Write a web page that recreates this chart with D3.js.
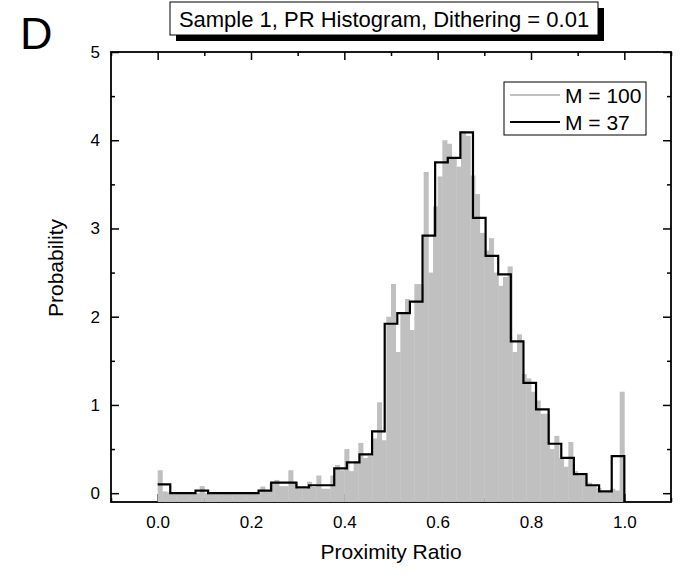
<!DOCTYPE html>
<html>
<head>
<meta charset="utf-8">
<script src="https://cdn.jsdelivr.net/npm/d3@7"></script>
<style>
  body { margin: 0; background: #fff; }
  text { font-family: "Liberation Sans", Arial, sans-serif; }
</style>
</head>
<body>
<script>
// histogram heights, M = 100 bins on [0,1]
var pr100 = [
  0.26, 0.02, 0.01, 0, 0, 0, 0, 0, 0, 0.08,
  0, 0, 0, 0, 0, 0, 0, 0, 0, 0,
  0, 0, 0.075, 0.02, 0.12, 0.15, 0.08, 0.08, 0.26, 0.12,
  0.05, 0.05, 0.13, 0.07, 0.2, 0.05, 0.05, 0.2, 0.32, 0.26,
  0.5, 0.25, 0.35, 0.57, 0.4, 0.42, 0.62, 1.03, 0.6, 2.0,
  2.37, 1.6, 2.05, 2.2, 1.85, 2.37, 2.37, 3.64, 2.5, 3.25,
  3.59, 4.0, 3.96, 3.8, 3.7, 4.1, 4.05, 3.6, 3.39, 2.95,
  2.75, 2.89, 2.5, 2.35, 2.45, 2.57, 1.6, 1.8, 1.35, 1.3,
  1.15, 1.05, 0.9, 0.9, 0.5, 0.65, 0.4, 0.3, 0.58, 0.25,
  0.2, 0.2, 0.12, 0.08, 0.06, 0.01, 0.01, 0.05, 0.03, 1.15
];

// histogram heights, M = 37 bins on [0,1]
var pr37 = [
  0.10, 0, 0, 0.03, 0, 0, 0, 0, 0.03, 0.12,
  0.12, 0.065, 0.09, 0.09, 0.28, 0.35, 0.44, 0.70, 1.92, 2.04,
  2.17, 2.92, 3.75, 3.80, 4.09, 3.12, 2.69, 2.48, 1.72, 1.25,
  0.95, 0.56, 0.40, 0.215, 0.09, 0.02, 0.42
];

var xTicks = [0, 0.2, 0.4, 0.6, 0.8, 1.0];
var xMinor = [-0.1, 0.1, 0.3, 0.5, 0.7, 0.9, 1.1];
var yTicks = [0, 1, 2, 3, 4, 5];
var yMinor = [0.5, 1.5, 2.5, 3.5, 4.5];

var legendNames = ["M = 100", "M = 37"];
var legendColors = ["#c0c0c0", "#000"];

var width = 697, height = 576;
// note: "top" is taken by window.top, so plot edges get their own names
var pl = 111, pr = 671, pt = 52, pb = 502;

var svg = d3.select("body").append("svg")
    .attr("width", width)
    .attr("height", height);

var x = d3.scaleLinear().domain([-0.1, 1.1]).range([pl, pr]);
var y = d3.scaleLinear().domain([-0.1, 5]).range([pb, pt]);

// frame
svg.append("rect")
    .attr("x", pl).attr("y", pt)
    .attr("width", pr - pl).attr("height", pb - pt)
    .attr("fill", "none").attr("stroke", "#000").attr("stroke-width", 1.8);

// axes, ticks pointing inward
var axB = d3.axisBottom(x).tickValues(xTicks).tickSize(-8).tickFormat(d3.format(".1f")).tickPadding(14);
var axBm = d3.axisBottom(x).tickValues(xMinor).tickSize(-4).tickFormat("");
var axT = d3.axisTop(x).tickValues(xTicks).tickSize(-8).tickFormat("");
var axTm = d3.axisTop(x).tickValues(xMinor).tickSize(-4).tickFormat("");
var axL = d3.axisLeft(y).tickValues(yTicks).tickSize(-8).tickFormat(d3.format("d")).tickPadding(11);
var axLm = d3.axisLeft(y).tickValues(yMinor).tickSize(-4).tickFormat("");
var axR = d3.axisRight(y).tickValues(yTicks).tickSize(-8).tickFormat("");
var axRm = d3.axisRight(y).tickValues(yMinor).tickSize(-4).tickFormat("");

function put(ax, tx, ty) {
  var g = svg.append("g").attr("transform", "translate(" + tx + "," + ty + ")").call(ax);
  g.attr("font-size", 17).attr("font-family", "'Liberation Sans', Arial, sans-serif");
  g.select(".domain").remove();
  g.selectAll("line").attr("stroke", "#000").attr("stroke-width", 1.5);
  g.selectAll("text").attr("fill", "#000");
  return g;
}
put(axB, 0, pb); put(axBm, 0, pb);
put(axT, 0, pt); put(axTm, 0, pt);
put(axL, pl, 0); put(axLm, pl, 0);
put(axR, pr, 0); put(axRm, pr, 0);

// gray bars (M = 100), drawn from the frame bottom
var w100 = 1 / pr100.length;
svg.append("g").selectAll("rect")
  .data(pr100)
  .enter().append("rect")
    .attr("x", function(d, i) { return x(i * w100); })
    .attr("width", function(d, i) { return x((i + 1) * w100) - x(i * w100) + 0.4; })
    .attr("y", function(d) { return y(d); })
    .attr("height", function(d) { return pb - y(d); })
    .attr("fill", "#c0c0c0");

// black step line (M = 37)
var w37 = 1 / pr37.length;
var pts = pr37.map(function(d, i) { return [i * w37, d]; });
pts.push([1, pr37[pr37.length - 1]]);
pts.push([1, -0.1]);
var step = d3.line()
    .x(function(d) { return x(d[0]); })
    .y(function(d) { return y(d[1]); })
    .curve(d3.curveStepAfter);
svg.append("path")
    .attr("d", step(pts))
    .attr("fill", "none")
    .attr("stroke", "#000")
    .attr("stroke-width", 2.2)
    .attr("stroke-linejoin", "miter");

// axis titles
svg.append("text")
    .attr("x", 391).attr("y", 559)
    .attr("text-anchor", "middle").attr("font-size", 21)
    .text("Proximity Ratio");
svg.append("text")
    .attr("transform", "translate(63,268) rotate(-90)")
    .attr("text-anchor", "middle").attr("font-size", 21)
    .text("Probability");

// panel letter
svg.append("text")
    .attr("x", 20).attr("y", 49)
    .attr("font-size", 45)
    .text("D");

// title box with shadow
svg.append("rect")
    .attr("x", 176).attr("y", 8).attr("width", 428).attr("height", 33)
    .attr("fill", "#000");
svg.append("rect")
    .attr("x", 170).attr("y", 2).attr("width", 428).attr("height", 33)
    .attr("fill", "#fff").attr("stroke", "#000").attr("stroke-width", 1);
svg.append("text")
    .attr("x", 384).attr("y", 26.5)
    .attr("text-anchor", "middle").attr("font-size", 22)
    .text("Sample 1, PR Histogram, Dithering = 0.01");

// legend
var lg = svg.append("g");
lg.append("rect")
    .attr("x", 504).attr("y", 82).attr("width", 142).attr("height", 53)
    .attr("fill", "#fff").attr("stroke", "#000").attr("stroke-width", 1);
legendNames.forEach(function(name, i) {
  var ly = 95 + i * 27;
  lg.append("line")
      .attr("x1", 510).attr("x2", 560).attr("y1", ly).attr("y2", ly)
      .attr("stroke", legendColors[i]).attr("stroke-width", 2);
  lg.append("text")
      .attr("x", 565).attr("y", ly + 7.5)
      .attr("font-size", 21)
      .text(name);
});
</script>
</body>
</html>
